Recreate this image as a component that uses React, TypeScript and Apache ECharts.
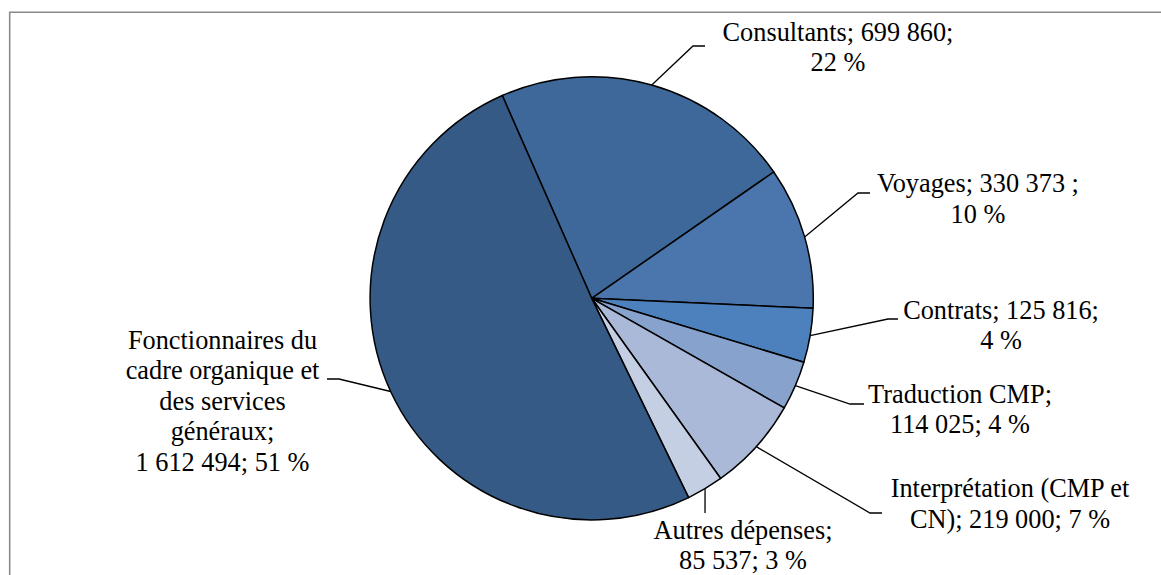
import React, { useEffect, useRef } from 'react';
import * as echarts from 'echarts';

// ---- data ----
const categories = [
  'Consultants',
  'Voyages',
  'Contrats',
  'Traduction CMP',
  'Interprétation (CMP et CN)',
  'Autres dépenses',
  'Fonctionnaires du cadre organique et des services généraux',
];
const values = [699860, 330373, 125816, 114025, 219000, 85537, 1612494];
// label names with the line breaks of the reference
const labelNames = [
  'Consultants',
  'Voyages',
  'Contrats',
  'Traduction CMP',
  'Interprétation (CMP et\nCN)',
  'Autres dépenses',
  'Fonctionnaires du\ncadre organique et\ndes services\ngénéraux',
];
const labelTemplates = [
  '{n}; {v};\n{p} %',
  '{n}; {v} ;\n{p} %',
  '{n}; {v};\n{p} %',
  '{n};\n{v}; {p} %',
  '{n}; {v}; {p} %',
  '{n};\n{v}; {p} %',
  '{n};\n{v}; {p} %',
];

// ---- styles / layout ----
const colors = ['#3e6899', '#4a76ad', '#4d81bd', '#87a2cc', '#aab9d8', '#c5cfe3', '#355a86'];
const labelCenters = [
  [838, 47.4],
  [978, 199.2],
  [1001, 325.7],
  [960, 409.7],
  [1010, 504.2],
  [743, 545.7],
  [222.5, 401.2],
];
const leaderBends = [
  [[693, 46], [705, 46]],
  [[858, 193], [870, 193]],
  [[888, 319], [898, 319]],
  [[850, 404], [864, 404]],
  [[870, 513], [882, 513]],
  [[705, 513], [705, 513]],
  [[339, 379], [327, 379]],
];

const FONT = "'Liberation Serif', 'Times New Roman', 'DejaVu Serif', serif";

function fmtNum(v: number): string {
  return String(v).replace(/\B(?=(\d{3})+(?!\d))/g, ' ');
}

export default function App() {
  const ref = useRef<HTMLDivElement>(null);
  useEffect(() => {
    if (!ref.current) return;
    const chart = echarts.init(ref.current, null, { renderer: 'svg' });
    const total = values.reduce((a, b) => a + b, 0);
    const cx = 591.7;
    const cy = 298.3;
    const r = 221.6;
    const startAngle = 113.8;
    chart.setOption({
      animation: false,
      backgroundColor: '#ffffff',
      textStyle: { fontFamily: FONT },
      graphic: [
        {
          type: 'rect',
          shape: { x: 9.7, y: 12.3, width: 1300, height: 700 },
          style: { fill: 'none', stroke: '#8a8a8a', lineWidth: 1.6 },
          silent: true,
        },
      ],
      series: [
        {
          type: 'pie',
          center: [cx, cy],
          radius: r,
          startAngle,
          clockwise: true,
          avoidLabelOverlap: false,
          itemStyle: { borderColor: '#000000', borderWidth: 1.5 },
          emphasis: { disabled: true },
          label: {
            show: true,
            position: 'outside',
            fontFamily: FONT,
            fontSize: 26.3,
            lineHeight: 30.5,
            color: '#000000',
            align: 'center',
            formatter: (p: any) => {
              const i = p.dataIndex;
              const pct = Math.round((values[i] / total) * 100);
              return labelTemplates[i]
                .replace('{n}', labelNames[i])
                .replace('{v}', fmtNum(values[i]))
                .replace('{p}', String(pct));
            },
          },
          labelLine: {
            show: true,
            length: 20,
            length2: 10,
            lineStyle: { color: '#000000', width: 1.3 },
          },
          labelLayout: (params: any) => {
            const i = params.dataIndex;
            const res: any = {
              x: labelCenters[i][0],
              y: labelCenters[i][1],
              align: 'center',
              verticalAlign: 'middle',
            };
            let p0: number[] | null = null;
            if (params.labelLinePoints && params.labelLinePoints[0]) {
              p0 = [params.labelLinePoints[0][0], params.labelLinePoints[0][1]];
            } else {
              let before = 0;
              for (let k = 0; k < i; k++) before += values[k];
              const mid = ((before + values[i] / 2) / total) * 360;
              const a = ((startAngle - mid) * Math.PI) / 180;
              p0 = [cx + r * Math.cos(a), cy - r * Math.sin(a)];
            }
            res.labelLinePoints = [p0, leaderBends[i][0], leaderBends[i][1]];
            return res;
          },
          data: categories.map((name, i) => ({
            name,
            value: values[i],
            itemStyle: { color: colors[i] },
          })),
        },
      ],
    });
    return () => chart.dispose();
  }, []);
  return (
    <div
      ref={ref}
      style={{ position: 'fixed', left: 0, top: 0, width: 1161, height: 575, background: '#fff' }}
    />
  );
}
